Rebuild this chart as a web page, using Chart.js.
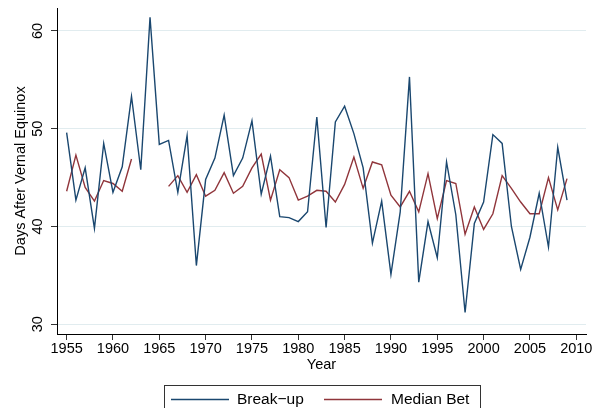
<!DOCTYPE html>
<html>
<head>
<meta charset="utf-8">
<script src="https://cdn.jsdelivr.net/npm/chart.js@4"></script>
<style>
  html, body { margin: 0; padding: 0; background: #fff; }
  #wrap { position: relative; width: 599px; height: 408px; }
</style>
</head>
<body>
<div id="wrap"><canvas id="ice"></canvas></div>
<script>
// values
const years = [
  1955, 1956, 1957, 1958, 1959, 1960, 1961, 1962, 1963, 1964,
  1965, 1966, 1967, 1968, 1969, 1970, 1971, 1972, 1973, 1974,
  1975, 1976, 1977, 1978, 1979, 1980, 1981, 1982, 1983, 1984,
  1985, 1986, 1987, 1988, 1989, 1990, 1991, 1992, 1993, 1994,
  1995, 1996, 1997, 1998, 1999, 2000, 2001, 2002, 2003, 2004,
  2005, 2006, 2007, 2008, 2009
];
const breakUp = [
  49.6, 42.7, 46.0, 39.8, 48.5, 43.5, 46.1, 53.3, 45.8, 61.4,
  48.4, 48.8, 43.5, 49.3, 36.0, 44.8, 47.0, 51.4, 45.2, 47.0,
  50.8, 43.3, 47.2, 41.0, 40.9, 40.5, 41.5, 51.2, 39.9, 50.7,
  52.3, 49.5, 46.0, 38.3, 42.6, 35.1, 41.5, 55.3, 34.3, 40.5,
  36.8, 46.6, 41.2, 31.2, 40.3, 42.5, 49.4, 48.5, 40.0, 35.6,
  38.9, 43.4, 37.9, 48.1, 42.7
];
const medianBet = [
  43.6, 47.3, 44.0, 42.6, 44.7, 44.4, 43.6, 46.9, null, null,
  null, 44.1, 45.2, 43.5, 45.3, 43.1, 43.7, 45.5, 43.4, 44.1,
  46.0, 47.4, 42.7, 45.8, 45.0, 42.7, 43.1, 43.7, 43.6, 42.5,
  44.3, 47.1, 43.9, 46.6, 46.3, 43.2, 42.0, 43.6, 41.5, 45.4,
  40.8, 44.7, 44.4, 39.2, 42.0, 39.7, 41.3, 45.2, 43.9, 42.5,
  41.3, 41.3, 45.0, 41.7, 44.9
];
const xTicks = [1955, 1960, 1965, 1970, 1975, 1980, 1985, 1990, 1995, 2000, 2005, 2010];
const yTicks = [30, 40, 50, 60];
const seriesNames = ["Break\u2212up", "Median Bet"];

const NAVY = "#1a476f";
const MAROON = "#90353b";
const FONT = "'Liberation Sans', Arial, sans-serif";

const toPoints = (vals) => years.map((y, i) => ({ x: y, y: vals[i] }));

// stata style legend box under the axis title
const boxLegend = {
  id: "boxLegend",
  afterDraw(chart) {
    const { ctx } = chart;
    ctx.save();
    ctx.strokeStyle = "#333";
    ctx.lineWidth = 1;
    ctx.strokeRect(164.5, 385.5, 316, 40);
    const items = [
      { x: 171, textX: 237 },
      { x: 324, textX: 391 }
    ];
    ctx.font = "15.5px " + FONT;
    ctx.textBaseline = "middle";
    ctx.fillStyle = "#000";
    chart.data.datasets.forEach((ds, i) => {
      const it = items[i];
      ctx.strokeStyle = ds.borderColor;
      ctx.lineWidth = 1.3;
      ctx.beginPath();
      ctx.moveTo(it.x, 399.5);
      ctx.lineTo(it.x + 58, 399.5);
      ctx.stroke();
      ctx.fillText(ds.label, it.textX, 400);
    });
    ctx.restore();
  }
};

new Chart(document.getElementById("ice"), {
  type: "line",
  data: {
    datasets: [
      {
        label: seriesNames[0],
        data: toPoints(breakUp),
        borderColor: NAVY,
        borderWidth: 1.4,
        pointRadius: 0,
        tension: 0
      },
      {
        label: seriesNames[1],
        data: toPoints(medianBet),
        borderColor: MAROON,
        borderWidth: 1.4,
        pointRadius: 0,
        tension: 0,
        spanGaps: false
      }
    ]
  },
  options: {
    responsive: true,
    maintainAspectRatio: false,
    animation: false,
    layout: { padding: { left: 0, right: 13, top: 8, bottom: 32 } },
    plugins: {
      legend: { display: false },
      tooltip: { enabled: false }
    },
    scales: {
      x: {
        type: "linear",
        min: 1953.96,
        max: 2011.05,
        afterBuildTicks: (s) => { s.ticks = xTicks.map(v => ({ value: v })); },
        afterFit: (s) => { s.height = 42; s.paddingLeft = 0; s.paddingRight = 0; },
        grid: { drawOnChartArea: false, tickLength: 6, tickColor: "#333" },
        border: { color: "#000", width: 1 },
        ticks: {
          color: "#000",
          padding: 0,
          maxRotation: 0,
          font: { family: FONT, size: 14.5 },
          callback: (v) => String(v)
        },
        title: {
          display: true,
          text: "Year",
          color: "#000",
          padding: { top: 0, bottom: 2 },
          font: { family: FONT, size: 14.5 }
        }
      },
      y: {
        min: 29,
        max: 62.35,
        afterBuildTicks: (s) => { s.ticks = yTicks.map(v => ({ value: v })); },
        afterFit: (s) => { s.width = 57; s.paddingTop = 0; s.paddingBottom = 0; },
        grid: { color: "#e1ecef", lineWidth: 1, tickLength: 6, tickColor: "#333" },
        border: { color: "#000", width: 1 },
        ticks: {
          color: "#000",
          padding: 5,
          minRotation: 90,
          maxRotation: 90,
          crossAlign: "center",
          font: { family: FONT, size: 14.5 }
        },
        title: {
          display: true,
          text: "Days After Vernal Equinox",
          color: "#000",
          padding: { top: 12, bottom: 0 },
          font: { family: FONT, size: 14.5 }
        }
      }
    }
  },
  plugins: [boxLegend]
});
</script>
</body>
</html>
